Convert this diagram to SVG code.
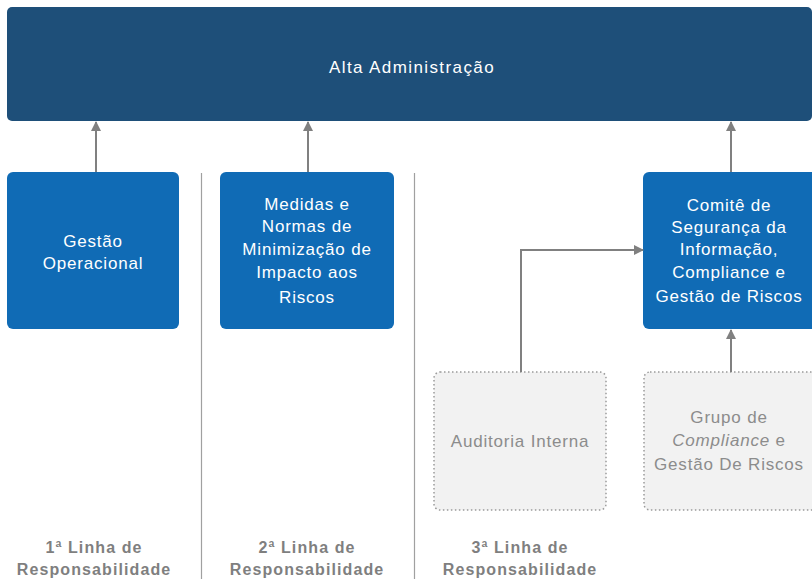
<svg xmlns="http://www.w3.org/2000/svg" width="812" height="579" viewBox="0 0 812 579">
<defs>
<marker id="ah" viewBox="0 0 10 10" refX="9" refY="5" markerWidth="10" markerHeight="10" markerUnits="userSpaceOnUse" orient="auto">
<path d="M0,0 L10,5 L0,10 z" fill="#808080"/>
</marker>
<style>
.t{font-family:"Liberation Sans",Arial,sans-serif;font-size:17px;letter-spacing:0.8px;text-anchor:middle}
.w{fill:#ffffff}
.g{fill:#8c8c8c}
.big{letter-spacing:1.4px}
.b{font-family:"Liberation Sans",Arial,sans-serif;font-size:16px;font-weight:bold;fill:#7f7f7f;letter-spacing:1.1px;text-anchor:middle}
.blue{fill:#106bb5}
.dot{fill:#f2f2f2;stroke:#9a9a9a;stroke-width:1.5;stroke-dasharray:1.5 2.5}
.c{fill:none;stroke:#808080;stroke-width:2;marker-end:url(#ah)}
.div{stroke:#a0a0a0;stroke-width:1.2}
</style>
</defs>
<rect width="812" height="579" fill="#ffffff"/>
<g id="dividers">
<line class="div" x1="201.5" y1="173" x2="201.5" y2="579"/>
<line class="div" x1="414.5" y1="173" x2="414.5" y2="579"/>
</g>
<g id="alta">
<rect x="7" y="7" width="805" height="114" rx="5" fill="#1e4f79"/>
<text class="t w big" x="412" y="73">Alta Administração</text>
</g>
<g id="gestao-operacional">
<rect class="blue" x="7" y="172" width="172" height="157" rx="6"/>
<text class="t w" x="93" y="247">Gestão</text>
<text class="t w" x="93" y="269">Operacional</text>
</g>
<g id="medidas">
<rect class="blue" x="220" y="172" width="174" height="157" rx="6"/>
<text class="t w" x="307" y="210">Medidas e</text>
<text class="t w" x="307" y="232">Normas de</text>
<text class="t w" x="307" y="255">Minimização de</text>
<text class="t w" x="307" y="278">Impacto aos</text>
<text class="t w" x="307" y="303">Riscos</text>
</g>
<g id="comite">
<rect class="blue" x="643" y="172" width="175" height="157" rx="6"/>
<text class="t w" x="729" y="211">Comitê de</text>
<text class="t w" x="729" y="233">Segurança da</text>
<text class="t w" x="729" y="255">Informação,</text>
<text class="t w" x="729" y="278">Compliance e</text>
<text class="t w" x="729" y="302">Gestão de Riscos</text>
</g>
<g id="auditoria">
<rect class="dot" x="434" y="372" width="172" height="138" rx="6"/>
<text class="t g" x="520" y="447">Auditoria Interna</text>
</g>
<g id="grupo">
<rect class="dot" x="644" y="372" width="175" height="138" rx="6"/>
<text class="t g" x="729" y="423">Grupo de</text>
<text class="t g" x="729" y="446"><tspan font-style="italic">Compliance</tspan> e</text>
<text class="t g" x="729" y="470">Gestão De Riscos</text>
</g>
<g id="connectors">
<line class="c" x1="96" y1="172" x2="96" y2="122"/>
<line class="c" x1="308" y1="172" x2="308" y2="122"/>
<line class="c" x1="731" y1="172" x2="731" y2="122"/>
<polyline class="c" points="521,372 521,250 643,250"/>
<line class="c" x1="731" y1="372" x2="731" y2="330"/>
</g>
<g id="labels">
<text class="b" x="94" y="553">1ª Linha de</text>
<text class="b" x="94" y="575">Responsabilidade</text>
<text class="b" x="307" y="553">2ª Linha de</text>
<text class="b" x="307" y="575">Responsabilidade</text>
<text class="b" x="520" y="553">3ª Linha de</text>
<text class="b" x="520" y="575">Responsabilidade</text>
</g>
</svg>
